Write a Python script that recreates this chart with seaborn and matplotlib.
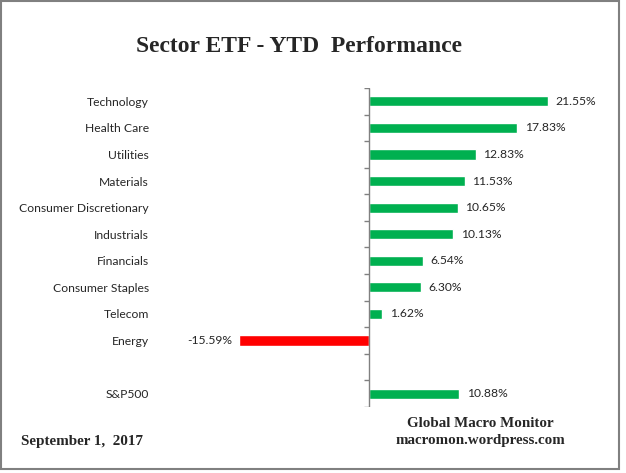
import numpy as np
import pandas as pd
import matplotlib
matplotlib.use("Agg")
import matplotlib.pyplot as plt
import seaborn as sns
from matplotlib.patches import Rectangle

# data
sectors = ["Technology", "Health Care", "Utilities", "Materials",
           "Consumer Discretionary", "Industrials", "Financials",
           "Consumer Staples", "Telecom", "Energy", "S&P500"]
ytd = [21.55, 17.83, 12.83, 11.53, 10.65, 10.13, 6.54, 6.30, 1.62, -15.59, 10.88]
# empty slot between Energy and the index
order = sectors[:10] + [" "] + sectors[10:]

df = pd.DataFrame({"sector": sectors, "ytd": ytd})
df["sign"] = np.where(df.ytd < 0, "neg", "pos")

sns.set_style("white")
plt.rcParams["font.family"] = ["Lato", "DejaVu Sans"]

fig = plt.figure(figsize=(6.26, 4.73), dpi=100)
ax = fig.add_axes([160 / 626, 66 / 473, 440 / 626, 319 / 473])

sns.barplot(data=df, x="ytd", y="sector", hue="sign", order=order,
            palette={"pos": "#00B050", "neg": "#FF0000"}, saturation=1,
            width=0.38, legend=False, ax=ax)

ax.set_xlim((160 - 369) / 8.31, (600 - 369) / 8.31)
ax.set_ylim(len(order) - 0.5, -0.5)
for s in ax.spines.values():
    s.set_visible(False)
ax.set_xticks([])
ax.set_xlabel("")
ax.set_ylabel("")
ax.tick_params(axis="y", length=0, pad=8, labelsize=8.7)

# zero axis with ticks between categories
ax.axvline(0, color="#808080", lw=1)
bounds = np.arange(len(order) + 1) - 0.5
ax.hlines(bounds, -0.55, 0, color="#808080", lw=1)

# value labels
for i, name in enumerate(order):
    if name not in sectors:
        continue
    v = ytd[sectors.index(name)]
    if v >= 0:
        ax.text(v + 0.9, i, f"{v:.2f}%", va="center", ha="left", fontsize=8.7)
    else:
        ax.text(v - 0.9, i, f"{v:.2f}%", va="center", ha="right", fontsize=8.7)

fig.text(299 / 626, 1 - 46 / 473, "Sector ETF - YTD  Performance",
         ha="center", va="center", fontsize=17, fontweight="bold",
         family="Liberation Serif")
fig.text(480 / 626, 1 - 423 / 473, "Global Macro Monitor", ha="center",
         va="center", fontsize=10.8, fontweight="bold", family="Liberation Serif")
fig.text(480 / 626, 1 - 440 / 473, "macromon.wordpress.com", ha="center",
         va="center", fontsize=10.8, fontweight="bold", family="Liberation Serif")
fig.text(21 / 626, 1 - 441 / 473, "September 1,  2017", ha="left",
         va="center", fontsize=10.9, fontweight="bold", family="Liberation Serif")

fig.patches.append(Rectangle((1 / 626, 4 / 473), 618 / 626, 468 / 473,
                             transform=fig.transFigure, fill=False,
                             edgecolor="#808080", lw=1.5))

fig.savefig("out.png", dpi=100)
